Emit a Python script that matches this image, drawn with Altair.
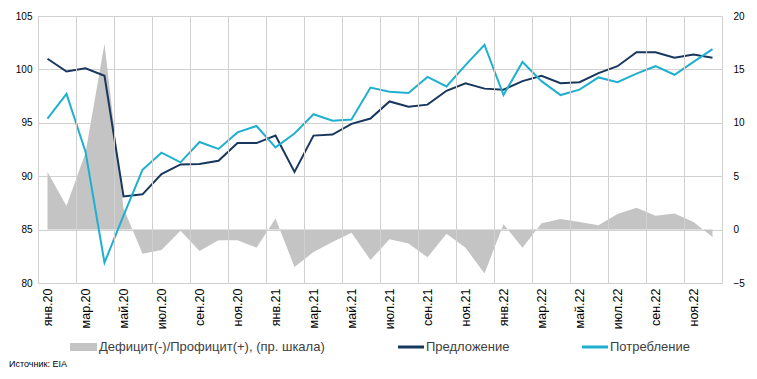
import json
import numpy as np
import pandas as pd
import altair as alt

months = ["янв.20", "фев.20", "мар.20", "апр.20", "май.20", "июн.20",
          "июл.20", "авг.20", "сен.20", "окт.20", "ноя.20", "дек.20",
          "янв.21", "фев.21", "мар.21", "апр.21", "май.21", "июн.21",
          "июл.21", "авг.21", "сен.21", "окт.21", "ноя.21", "дек.21",
          "янв.22", "фев.22", "мар.22", "апр.22", "май.22", "июн.22",
          "июл.22", "авг.22", "сен.22", "окт.22", "ноя.22", "дек.22"]

supply = [101.0, 99.8, 100.1, 99.4, 88.1, 88.3, 90.2, 91.1, 91.15, 91.45, 93.1, 93.1,
          93.8, 90.4, 93.8, 93.9, 94.9, 95.4, 97.0, 96.5, 96.7, 98.0, 98.7, 98.2,
          98.1, 98.9, 99.4, 98.7, 98.8, 99.65, 100.3, 101.6, 101.6, 101.1, 101.4, 101.1]

consumption = [95.4, 97.7, 92.3, 81.9, 86.3, 90.6, 92.2, 91.3, 93.2, 92.55, 94.1, 94.7,
               92.7, 94.0, 95.8, 95.2, 95.3, 98.3, 97.9, 97.8, 99.3, 98.4, 100.4, 102.3,
               97.6, 100.7, 98.9, 97.6, 98.1, 99.25, 98.8, 99.6, 100.3, 99.5, 100.7, 101.9]

balance = [5.4, 2.2, 7.2, 17.4, 2.0, -2.25, -1.9, -0.1, -2.0, -1.0, -1.0, -1.7,
           1.05, -3.5, -2.1, -1.15, -0.3, -2.85, -0.9, -1.3, -2.6, -0.4, -1.7, -4.1,
           0.5, -1.7, 0.6, 1.0, 0.7, 0.4, 1.45, 2.05, 1.3, 1.5, 0.7, -0.7]

series_names = ["Предложение", "Потребление"]
balance_name = "Дефицит(-)/Профицит(+),  (пр. шкала)"
source_text = "Источник: EIA"

C_SUPPLY = "#17375E"
C_CONS = "#1FB0CF"
C_AREA = "#C4C4C4"
C_GRID = "#D0D0D0"
FONT = "Liberation Sans"

W, H = 684, 267

df = pd.DataFrame({
    "i": np.arange(len(months)),
    "month": months,
    "Предложение": supply,
    "Потребление": consumption,
    "balance": balance,
})

n = len(months)
edges_df = pd.DataFrame({"edge": [k - 0.5 for k in range(0, n + 1, 2)]})

label_expr = json.dumps(months, ensure_ascii=False) + "[datum.value]"
x_axis = alt.Axis(values=list(range(0, n, 2)), labelExpr=label_expr, labelAngle=-90,
                  grid=False, ticks=False, domain=False, title=None,
                  labelFontSize=12.5, labelPadding=5)
x_scale = alt.Scale(domain=[-0.5, n - 0.5], nice=False, zero=False)

grid_v = alt.Chart(edges_df).mark_rule(color=C_GRID, strokeWidth=1, xOffset=0.5).encode(
    x=alt.X("edge:Q", scale=x_scale, axis=x_axis),
    y=alt.value(0),
    y2=alt.value(H),
)

area = alt.Chart(df).mark_area(color=C_AREA, opacity=1).encode(
    x=alt.X("i:Q", scale=x_scale, axis=x_axis),
    y=alt.Y("balance:Q", scale=alt.Scale(domain=[-5, 20], nice=False, zero=False),
            axis=alt.Axis(orient="right", values=list(range(-5, 21, 5)), grid=False,
                          ticks=False, domain=False, title=None, labelPadding=11,
                          labelAlign="left")),
    y2=alt.datum(0),
)

lines = alt.Chart(df).transform_fold(series_names, as_=["series", "value"]).mark_line(
    strokeWidth=2
).encode(
    x=alt.X("i:Q", scale=x_scale, axis=x_axis),
    y=alt.Y("value:Q", scale=alt.Scale(domain=[80, 105], nice=False, zero=False),
            axis=alt.Axis(orient="left", values=list(range(80, 106, 5)), grid=True,
                          gridColor=C_GRID, ticks=False, domain=False, title=None,
                          labelPadding=6)),
    color=alt.Color("series:N", scale=alt.Scale(domain=series_names, range=[C_SUPPLY, C_CONS]),
                    legend=None),
)

one = alt.Data(values=[{}])
LY = 331
leg = [
    alt.Chart(one).mark_rule(color=C_AREA, strokeWidth=8, strokeCap="butt").encode(
        x=alt.value(32), x2=alt.value(59), y=alt.value(LY)),
    alt.Chart(one).mark_text(text=balance_name, align="left", baseline="middle",
                             font=FONT, fontSize=13, color="#404040").encode(
        x=alt.value(61), y=alt.value(LY)),
    alt.Chart(one).mark_rule(color=C_SUPPLY, strokeWidth=3, strokeCap="butt").encode(
        x=alt.value(360), x2=alt.value(386), y=alt.value(LY)),
    alt.Chart(one).mark_text(text=series_names[0], align="left", baseline="middle",
                             font=FONT, fontSize=13, color="#404040").encode(
        x=alt.value(388), y=alt.value(LY)),
    alt.Chart(one).mark_rule(color=C_CONS, strokeWidth=3, strokeCap="butt").encode(
        x=alt.value(544), x2=alt.value(570), y=alt.value(LY)),
    alt.Chart(one).mark_text(text=series_names[1], align="left", baseline="middle",
                             font=FONT, fontSize=13, color="#404040").encode(
        x=alt.value(572), y=alt.value(LY)),
    alt.Chart(one).mark_text(text=source_text, align="left", baseline="middle",
                             font=FONT, fontSize=9, color="#000000").encode(
        x=alt.value(-29), y=alt.value(348)),
]

chart = alt.layer(area, lines, *leg, grid_v).resolve_scale(y="independent").properties(
    width=W, height=H,
    autosize=alt.AutoSizeParams(type="none"),
    padding={"left": 30, "top": 8, "right": 27, "bottom": 88},
).configure_view(stroke=C_GRID).configure_axis(
    labelFont=FONT, labelColor="#595959", labelFontSize=13
).configure(background="white")

chart.save("out.html", embed_options={"renderer": "svg", "actions": False})
